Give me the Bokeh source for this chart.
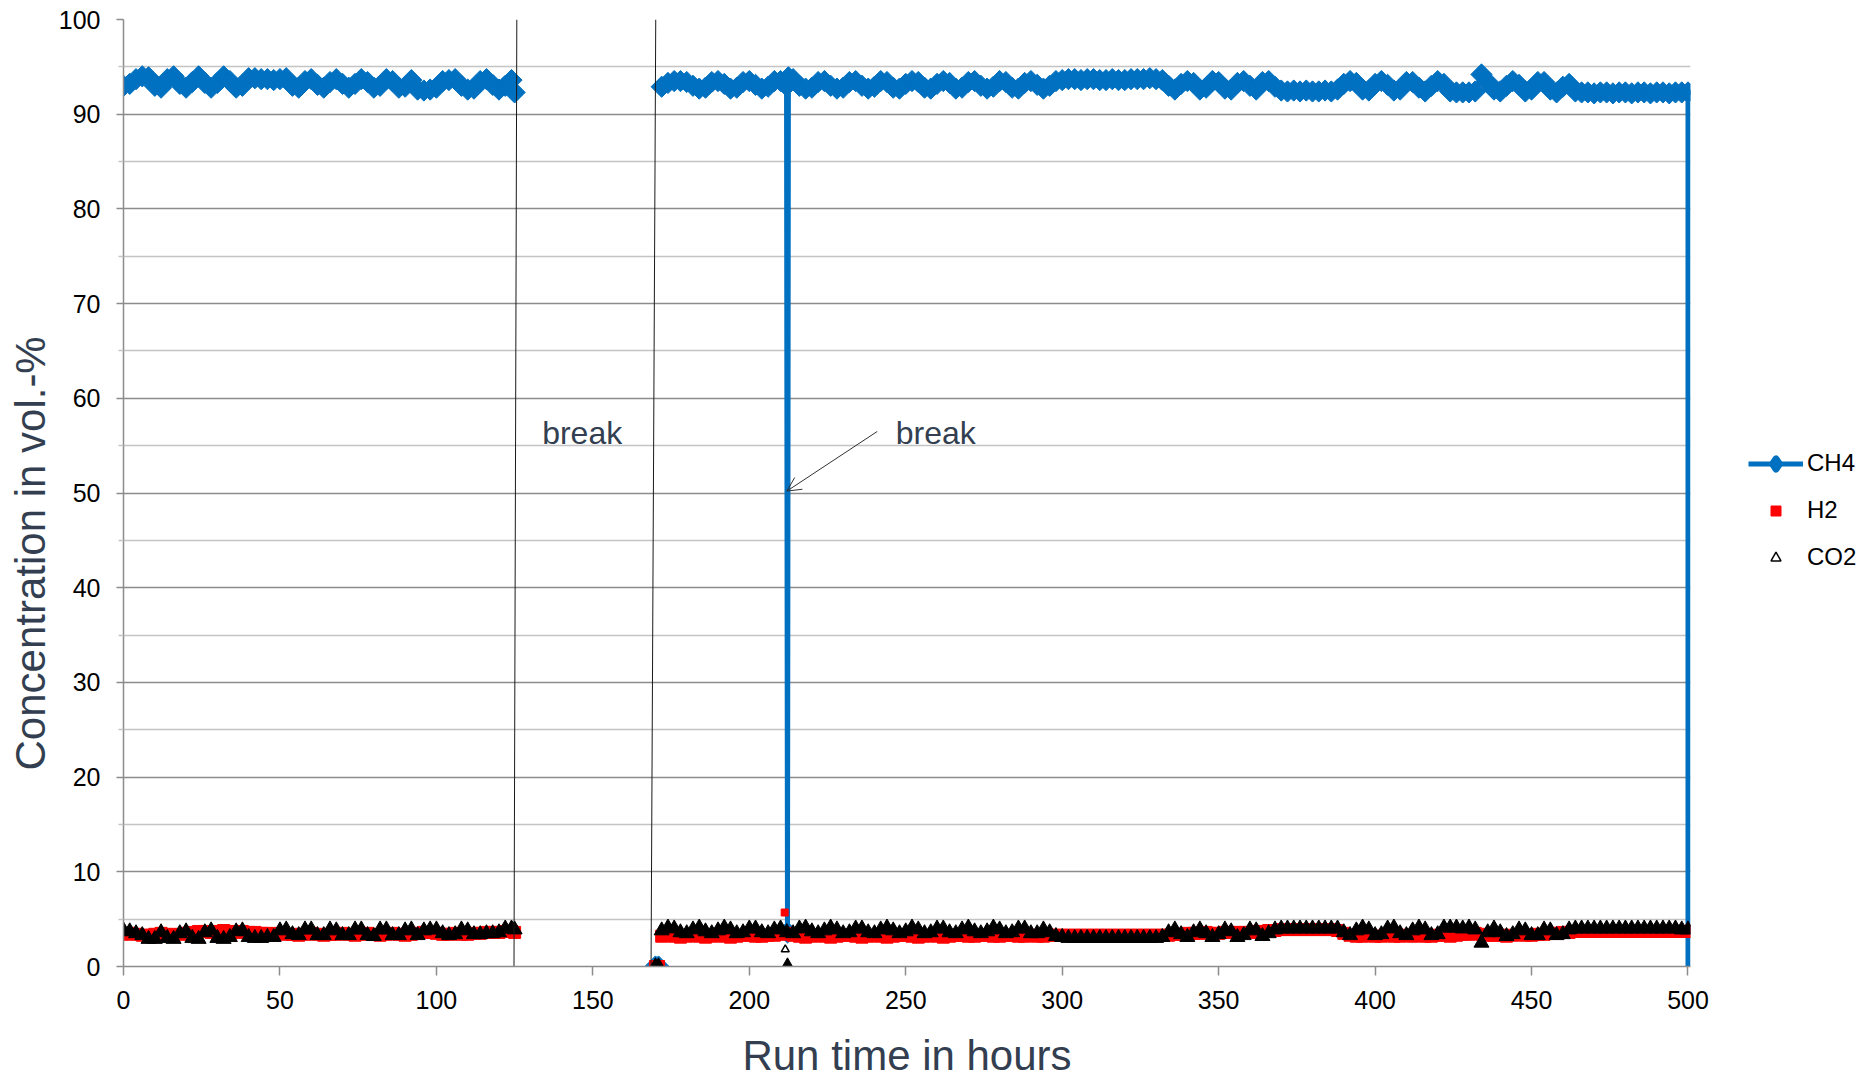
import math
from bokeh.plotting import figure
from bokeh.models import (FixedTicker, Legend, LegendItem, Arrow, OpenHead, Label,
                          Title, Range1d)
from bokeh.embed import file_html
from bokeh.resources import INLINE

nan = float("nan")
FONT = "Liberation Sans"
BLUE = "#0070C0"
SLATE = "#333F50"

# ---------------- data ----------------
# CH4, first run (0-125 h)
ch4_seg1_t = list(range(0, 125, 2)) + [125]
ch4_seg1_v = [
    93.0, 93.2, 93.7, 94.0, 93.9, 93.0, 92.8, 93.7, 94.0, 93.2,   # 0-18
    92.8, 93.4, 94.0, 93.3, 92.8, 93.3, 94.0, 93.5, 92.8, 93.0,   # 20-38
    93.8, 93.8, 93.7, 93.7, 93.6, 93.7, 93.8, 93.0, 92.8, 93.5,   # 40-58
    93.7, 93.1, 92.8, 93.4, 93.7, 93.2, 92.8, 93.2, 93.7, 93.4,   # 60-78
    92.8, 93.0, 93.7, 93.5, 92.8, 92.9, 93.6, 92.6, 92.5, 92.6,   # 80-98
    92.8, 93.5, 93.6, 93.7, 93.0, 92.6, 92.7, 93.5, 93.7, 93.1,   # 100-118
    92.6, 93.0, 93.6,                                             # 120-124
    92.3,                                                         # 125
]
# CH4 restart readings at zero
ch4_zero_t = [170, 171]
ch4_zero_v = [0.0, 0.0]
# CH4 second run up to the break
ch4_seg2a_t = list(range(172, 212, 2)) + [211.9]
ch4_seg2a_v = [
    92.9, 93.3, 93.5, 93.5, 93.4, 93.0, 92.7, 92.8, 93.4, 93.5,   # 172-190
    93.2, 92.7, 92.8, 93.4, 93.5, 93.1, 92.7, 92.9, 93.5, 93.5,   # 192-210
    93.0,                                                         # 211.9
]
ch4_dip_t = [212.2]
ch4_dip_v = [3.6]
ch4_seg2b_t = [212.5] + list(range(214, 434, 2)) + [434] + list(range(436, 500, 2)) + [500]
ch4_seg2b_v = [
    93.9,                                                         # 212.5
    93.7, 93.0, 92.7, 92.8, 93.4, 93.5, 93.0, 92.7, 92.8, 93.4,   # 214-232
    93.5, 93.0, 92.7, 92.9, 93.5, 93.4, 92.8, 92.7, 93.2, 93.5,   # 234-252
    93.4, 92.8, 92.7, 93.2, 93.5, 93.3, 92.7, 92.8, 93.4, 93.5,   # 254-272
    93.0, 92.7, 92.9, 93.5, 93.4, 92.8, 92.7, 93.3, 93.5, 93.1,   # 274-292
    92.7, 93.0, 93.5, 93.6, 93.7, 93.7, 93.6, 93.7, 93.7, 93.6,   # 294-312
    93.6, 93.7, 93.6, 93.6, 93.7, 93.7, 93.7, 93.8, 93.7, 93.6,   # 314-332
    93.0, 92.6, 93.2, 93.5, 93.3, 92.6, 92.8, 93.5, 93.4, 92.7,   # 334-352
    92.6, 93.3, 93.5, 93.0, 92.6, 93.4, 93.5, 92.9, 92.5, 92.4,   # 354-372
    92.5, 92.4, 92.5, 92.4, 92.4, 92.5, 92.4, 92.6, 93.2, 93.5,   # 374-392
    93.3, 92.6, 92.5, 93.2, 93.5, 93.1, 92.5, 92.6, 93.4, 93.4,   # 394-412
    92.8, 92.4, 93.0, 93.5, 93.2, 92.4, 92.3, 92.3, 92.3, 92.4,   # 414-432
    94.2,                                                         # 434
    93.4, 92.6, 92.4, 93.0, 93.5, 93.1, 92.4, 92.6, 93.4, 93.4,   # 436-454
    92.6, 92.3, 92.9, 93.2, 92.4, 92.3, 92.3, 92.2, 92.3, 92.3,   # 456-474
    92.2, 92.3, 92.3, 92.2, 92.3, 92.3, 92.2, 92.3, 92.3, 92.2,   # 476-494
    92.3, 92.3,                                                   # 496-498
    92.3,                                                         # 500
]
# CH4 after shut-down
ch4_end_t = [500]
ch4_end_v = [0.0]

# H2 and CO2 share one sampling grid
gas_t = list(range(0, 125, 2)) + [125] + [170, 171] + list(range(172, 500, 2)) + [500]
h2_v = [
    3.4, 3.5, 3.4, 3.3, 3.3, 3.4, 3.5, 3.4, 3.3, 3.4, 3.5, 3.6,   # 0-22
    3.7, 3.7, 3.6, 3.7, 3.8, 3.7, 3.6, 3.7, 3.6, 3.6, 3.5, 3.5,   # 24-46
    3.4, 3.5, 3.4, 3.4, 3.3, 3.4, 3.5, 3.4, 3.3, 3.4, 3.4, 3.5,   # 48-70
    3.4, 3.3, 3.4, 3.5, 3.4, 3.3, 3.4, 3.5, 3.4, 3.3, 3.4, 3.5,   # 72-94
    3.6, 3.6, 3.5, 3.4, 3.4, 3.5, 3.4, 3.4, 3.5, 3.5, 3.6, 3.6,   # 96-118
    3.6, 3.7, 3.7,                                                # 120-124
    3.6,                                                          # 125
    0.0, 0.0,                                                     # 170-171
    3.2, 3.3, 3.2, 3.1, 3.2, 3.3, 3.2, 3.1, 3.2, 3.3,             # 172-190
    3.2, 3.1, 3.2, 3.3, 3.3, 3.2, 3.2, 3.3, 3.3, 3.4,             # 192-210
    3.5, 3.3, 3.2, 3.1, 3.2, 3.3, 3.2, 3.1, 3.2, 3.3,             # 212-230
    3.3, 3.2, 3.1, 3.2, 3.3, 3.2, 3.1, 3.2, 3.3, 3.3,             # 232-250
    3.2, 3.1, 3.2, 3.3, 3.2, 3.1, 3.2, 3.3, 3.3, 3.2,             # 252-270
    3.2, 3.3, 3.3, 3.2, 3.2, 3.3, 3.3, 3.2, 3.2, 3.3,             # 272-290
    3.2, 3.2, 3.3, 3.3, 3.3, 3.3, 3.3, 3.3, 3.3, 3.3,             # 292-310
    3.3, 3.3, 3.3, 3.3, 3.3, 3.3, 3.3, 3.3, 3.3, 3.3,             # 312-330
    3.3, 3.3, 3.4, 3.4, 3.5, 3.5, 3.5, 3.6, 3.5, 3.5,             # 332-350
    3.6, 3.6, 3.6, 3.6, 3.6, 3.7, 3.7, 3.8, 3.8, 3.9,             # 352-370
    3.9, 3.9, 3.9, 3.9, 3.9, 3.9, 3.9, 3.9, 3.8, 3.5,             # 372-390
    3.3, 3.2, 3.2, 3.3, 3.2, 3.2, 3.3, 3.2, 3.2, 3.3,             # 392-410
    3.2, 3.3, 3.2, 3.2, 3.3, 3.3, 3.2, 3.3, 3.4, 3.4,             # 412-430
    3.5, 3.4, 3.3, 3.3, 3.3, 3.2, 3.3, 3.4, 3.3, 3.3,             # 432-450
    3.4, 3.4, 3.5, 3.5, 3.6, 3.6, 3.7, 3.7, 3.7, 3.7,             # 452-470
    3.7, 3.7, 3.7, 3.7, 3.7, 3.7, 3.7, 3.7, 3.7, 3.7,             # 472-490
    3.7, 3.7, 3.7, 3.7,                                           # 492-498
    3.7,                                                          # 500
]
co2_v = [
    3.8, 3.7, 3.5, 3.3, 2.9, 2.9, 3.6, 3.0, 2.9, 3.5, 3.7, 3.0,   # 0-22
    2.9, 3.6, 3.8, 3.0, 2.9, 3.1, 3.7, 3.8, 3.1, 3.0, 3.0, 3.1,   # 24-46
    3.1, 3.8, 3.9, 3.4, 3.3, 3.9, 3.9, 3.3, 3.3, 3.9, 3.8, 3.3,   # 48-70
    3.3, 3.9, 3.9, 3.3, 3.2, 3.9, 3.9, 3.3, 3.3, 3.8, 3.9, 3.3,   # 72-94
    3.8, 3.9, 3.9, 3.5, 3.3, 3.4, 3.9, 3.8, 3.4, 3.4, 3.5, 3.5,   # 96-118
    3.6, 4.0, 4.0,                                                # 120-124
    3.9,                                                          # 125
    0.0, 0.0,                                                     # 170-171
    3.8, 4.1, 4.0, 3.6, 3.5, 3.9, 4.1, 3.7, 3.5, 3.8,             # 172-190
    4.1, 3.9, 3.5, 3.6, 4.0, 4.0, 3.6, 3.5, 3.9, 4.0,             # 192-210
    3.6, 3.5, 4.0, 4.1, 3.7, 3.5, 3.8, 4.1, 3.9, 3.5,             # 212-230
    3.6, 4.0, 4.0, 3.6, 3.5, 3.9, 4.1, 3.8, 3.5, 3.7,             # 232-250
    4.1, 3.9, 3.5, 3.6, 4.0, 4.0, 3.6, 3.5, 3.9, 4.1,             # 252-270
    3.7, 3.5, 3.7, 4.1, 3.9, 3.5, 3.6, 4.0, 4.0, 3.5,             # 272-290
    3.5, 3.9, 3.6, 3.2, 3.1, 3.0, 3.0, 3.0, 3.0, 3.0,             # 292-310
    3.0, 3.0, 3.0, 3.0, 3.0, 3.0, 3.0, 3.0, 3.0, 3.0,             # 312-330
    3.1, 3.6, 3.9, 3.4, 3.1, 3.6, 3.9, 3.5, 3.1, 3.4,             # 332-350
    3.9, 3.7, 3.1, 3.3, 3.9, 3.8, 3.2, 3.5, 3.9, 4.0,             # 352-370
    4.0, 4.0, 4.0, 4.0, 4.0, 4.0, 4.0, 4.0, 4.0, 3.6,             # 372-390
    3.3, 3.8, 4.1, 3.9, 3.3, 3.4, 4.0, 4.1, 3.5, 3.3,             # 392-410
    3.8, 4.1, 3.9, 3.3, 3.4, 4.1, 4.1, 4.1, 4.0, 4.1,             # 412-430
    3.9, 2.5, 3.6, 4.0, 3.6, 3.2, 3.4, 3.9, 3.8, 3.3,             # 432-450
    3.3, 3.9, 3.8, 3.3, 3.4, 3.9, 4.0, 4.0, 4.0, 4.0,             # 452-470
    4.0, 4.0, 4.0, 4.0, 4.0, 4.0, 4.0, 4.0, 4.0, 4.0,             # 472-490
    4.0, 4.0, 4.0, 3.9,                                           # 492-498
    3.9,                                                          # 500
]
# single readings during the second break
h2_spike_t = [211.3]
h2_spike_v = [5.7]
co2_spike_t = [211.5]
co2_spike_v = [1.8]
co2_zero_t = [212.2]
co2_zero_v = [0.0]

assert len(ch4_seg1_t) == len(ch4_seg1_v), (len(ch4_seg1_t), len(ch4_seg1_v))
assert len(ch4_seg2a_t) == len(ch4_seg2a_v), (len(ch4_seg2a_t), len(ch4_seg2a_v))
assert len(ch4_seg2b_t) == len(ch4_seg2b_v), (len(ch4_seg2b_t), len(ch4_seg2b_v))
assert len(gas_t) == len(h2_v), (len(gas_t), len(h2_v))
assert len(gas_t) == len(co2_v), (len(gas_t), len(co2_v))

x_ticks = list(range(0, 501, 50))
y_ticks = list(range(0, 101, 10))
y_minor = list(range(5, 100, 10))

# ---------------- figure ----------------
p = figure(frame_width=1567, frame_height=947,
           x_range=Range1d(0, 500.8), y_range=Range1d(0, 100),
           output_backend="svg", toolbar_location=None,
           min_border_left=123, min_border_right=170,
           min_border_top=19, min_border_bottom=114,
           outline_line_color=None, background_fill_color="white",
           border_fill_color="white")

line_t = ch4_seg1_t + [nan] + ch4_zero_t + [nan] + ch4_seg2a_t + ch4_dip_t + ch4_seg2b_t + ch4_end_t
line_v = ch4_seg1_v + [nan] + ch4_zero_v + [nan] + ch4_seg2a_v + ch4_dip_v + ch4_seg2b_v + ch4_end_v
pts_t = ch4_seg1_t + ch4_zero_t + ch4_seg2a_t + ch4_dip_t + ch4_seg2b_t
pts_v = ch4_seg1_v + ch4_zero_v + ch4_seg2a_v + ch4_dip_v + ch4_seg2b_v

ch4_line = p.line(line_t, line_v, line_width=5, line_color=BLUE)
ch4_pts = p.scatter(pts_t, pts_v, marker="square", size=15, angle=math.pi / 4,
                    fill_color=BLUE, line_color=BLUE, line_width=1)
# legend key for the CH4 diamonds (a single undrawn NaN point)
ch4_key = p.scatter([nan], [nan], marker="diamond", size=10,
                    fill_color=BLUE, line_color=BLUE, line_width=7,
                    line_join="round")

h2_band = p.scatter(gas_t, h2_v, marker="square", size=12,
                    fill_color="#FF0000", line_color="#FF0000", line_width=1)
co2_band = p.scatter(gas_t + co2_zero_t, co2_v + co2_zero_v, marker="triangle", size=15,
                     fill_color="black", line_color="black", line_width=1)

h2_pt = p.scatter(h2_spike_t, h2_spike_v, marker="square", size=7,
                  fill_color="#FF0000", line_color="#FF0000")
co2_pt = p.scatter(co2_spike_t, co2_spike_v, marker="triangle", size=8,
                   fill_color="white", line_color="black", line_width=1.5)

# break markers (drawn shapes)
brk_x0 = [125.7, 170.1]
brk_x1 = [124.8, 168.6]
p.segment(x0=brk_x0, y0=[100, 100], x1=brk_x1, y1=[0, 0],
          line_color="#1a1a1a", line_width=1)

p.add_layout(Arrow(end=OpenHead(size=14, line_width=1, line_color="#333333"),
                   x_start=240.9, y_start=56.5, x_end=212.0, y_end=50.2,
                   line_color="#333333", line_width=1))
for bx in (133.8, 246.8):
    p.add_layout(Label(x=bx, y=56.3, text="break", text_font=FONT,
                       text_font_size="32px", text_color=SLATE,
                       text_baseline="alphabetic", text_align="left"))

# ---------------- axes & grid ----------------
xa = p.xaxis[0]
xa.ticker = FixedTicker(ticks=x_ticks)
xa.axis_line_color = "#8c8c8c"
xa.axis_line_width = 1.5
xa.major_tick_line_color = "#8c8c8c"
xa.major_tick_line_width = 1.5
xa.major_tick_in = 0
xa.major_tick_out = 9
xa.minor_tick_line_color = None
xa.major_label_standoff = 15
xa.major_label_text_font = FONT
xa.major_label_text_font_size = "25px"
xa.major_label_text_color = "black"
xa.axis_label = "Run time in hours"
xa.axis_label_text_font = FONT
xa.axis_label_text_font_size = "42px"
xa.axis_label_text_font_style = "normal"
xa.axis_label_text_color = SLATE
xa.axis_label_standoff = 20

ya = p.yaxis[0]
ya.ticker = FixedTicker(ticks=y_ticks, minor_ticks=y_minor)
ya.axis_line_color = "#8c8c8c"
ya.axis_line_width = 1.5
ya.major_tick_line_color = "#8c8c8c"
ya.major_tick_line_width = 1.5
ya.major_tick_in = 0
ya.major_tick_out = 7
ya.minor_tick_in = 0
ya.minor_tick_out = 5
ya.minor_tick_line_color = "#c4c4c4"
ya.minor_tick_line_width = 1.3
ya.major_label_standoff = 16
ya.major_label_text_font = FONT
ya.major_label_text_font_size = "25px"
ya.major_label_text_color = "black"

p.add_layout(Title(text="Concentration in vol.-%", align="left", offset=196,
                   text_font=FONT, text_font_size="42px", text_font_style="normal",
                   text_color=SLATE, standoff=4), "left")

p.xgrid.visible = False
p.ygrid.grid_line_color = "#8c8c8c"
p.ygrid.grid_line_width = 1.3
p.ygrid.minor_grid_line_color = "#c4c4c4"
p.ygrid.minor_grid_line_width = 1.3

legend = Legend(items=[LegendItem(label="CH4", renderers=[ch4_line, ch4_key]),
                       LegendItem(label="H2", renderers=[h2_pt]),
                       LegendItem(label="CO2", renderers=[co2_pt])],
                location=(58, 395), orientation="vertical",
                border_line_color=None, background_fill_alpha=0,
                label_text_font=FONT, label_text_font_size="24px",
                label_text_color="black",
                glyph_width=55, glyph_height=25, label_height=25,
                spacing=19, padding=0, margin=0, label_standoff=4)
p.add_layout(legend, "right")

open("out.html", "w").write(file_html(p, INLINE))
